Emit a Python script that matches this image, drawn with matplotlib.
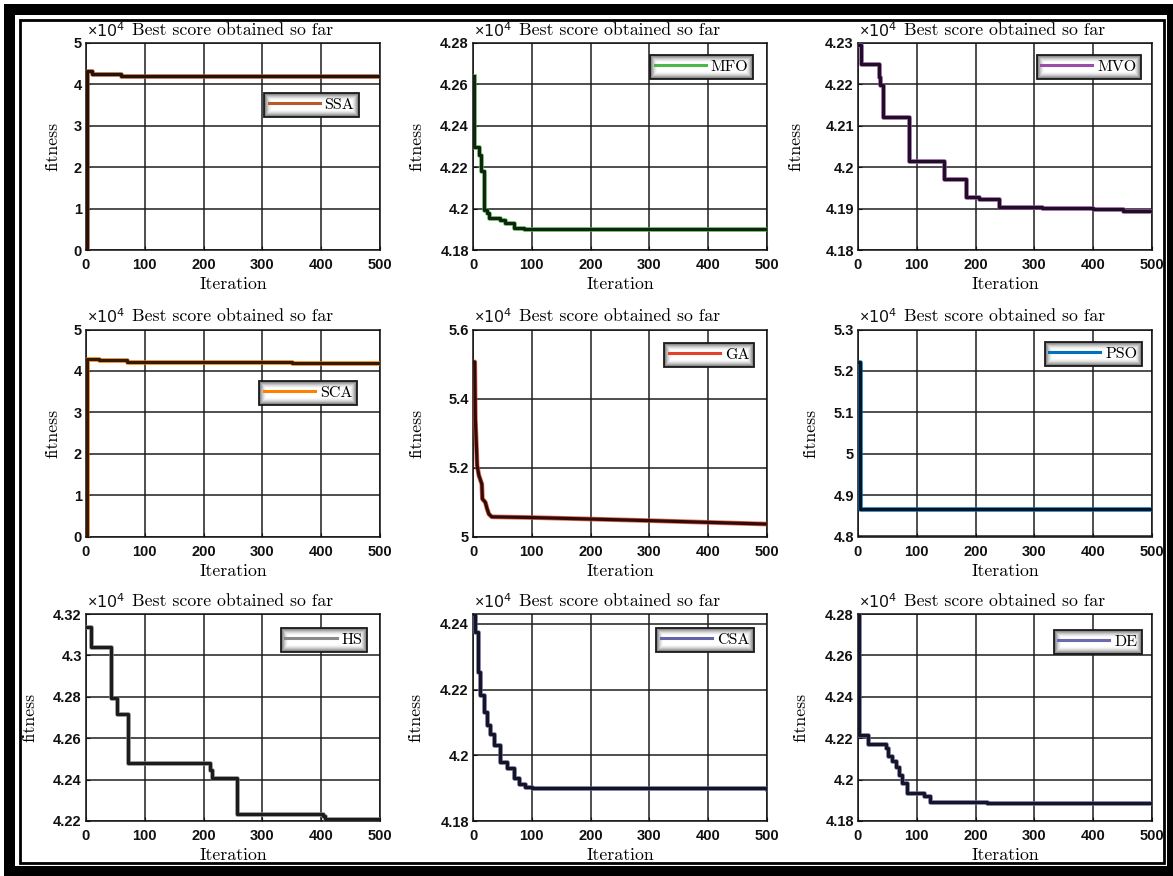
import matplotlib
matplotlib.use('Agg')
import matplotlib.pyplot as plt
from matplotlib.lines import Line2D
from matplotlib.patches import Rectangle
from matplotlib.transforms import IdentityTransform
import matplotlib.colors as mcolors

# ---------------- data ----------------
names = ['SSA', 'MFO', 'MVO', 'SCA', 'GA', 'PSO', 'HS', 'CSA', 'DE']
colors = ['#b85a28', '#4db848', '#9b4dab', '#ff8000', '#e6402a',
          '#0072bd', '#8a8a8a', '#6464aa', '#6a6ab0']

ssa_iter = [1, 2, 10, 47, 60, 500]
ssa_fit = [0, 43150, 42600, 42400, 41950, 41950]

mfo_iter = [1, 2, 11, 14, 19, 23, 28, 46, 55, 69, 86, 500]
mfo_fit = [42640, 42300, 42260, 42180, 41994, 41977, 41953, 41945, 41929, 41908, 41903, 41903]

mvo_iter = [1, 5, 35, 38, 42, 86, 146, 183, 205, 239, 313, 400, 450, 500]
mvo_fit = [42296, 42249, 42219, 42199, 42122, 42014, 41972, 41928, 41922, 41904, 41902, 41900, 41895, 41895]

sca_iter = [1, 2, 22, 70, 350, 500]
sca_fit = [0, 42900, 42650, 42250, 42000, 42000]

ga_iter = [2, 3, 4, 6, 7, 10, 15, 16, 21, 24, 27, 32, 100, 200, 300, 400, 500]
ga_fit = [55060, 55060, 53410, 52540, 52060, 51770, 51520, 51090, 50990, 50800, 50650, 50570,
          50550, 50506, 50460, 50410, 50360]

pso_iter = [1, 3, 500]
pso_fit = [52210, 48660, 48660]

hs_iter = [1, 8, 43, 53, 72, 211, 215, 256, 403, 406, 500]
hs_fit = [43138, 43040, 42796, 42719, 42480, 42444, 42408, 42235, 42222, 42211, 42211]

csa_iter = [1, 4, 8, 12, 18, 24, 29, 35, 46, 58, 69, 78, 89, 100, 500]
csa_fit = [42430, 42375, 42254, 42183, 42132, 42091, 42066, 42030, 41980, 41960, 41930,
           41914, 41904, 41899, 41897]

de_iter = [1, 2, 17, 47, 51, 58, 64, 70, 75, 84, 112, 123, 220, 500]
de_fit = [42800, 42216, 42171, 42155, 42115, 42090, 42060, 42020, 41985, 41937, 41921,
          41894, 41886, 41886]

series_iter = [ssa_iter, mfo_iter, mvo_iter, sca_iter, ga_iter, pso_iter, hs_iter, csa_iter, de_iter]
series_fit = [ssa_fit, mfo_fit, mvo_fit, sca_fit, ga_fit, pso_fit, hs_fit, csa_fit, de_fit]

ytick_labels = [
    ['0', '1', '2', '3', '4', '5'],
    ['4.18', '4.2', '4.22', '4.24', '4.26', '4.28'],
    ['4.18', '4.19', '4.2', '4.21', '4.22', '4.23'],
    ['0', '1', '2', '3', '4', '5'],
    ['5', '5.2', '5.4', '5.6'],
    ['4.8', '4.9', '5', '5.1', '5.2', '5.3'],
    ['4.22', '4.24', '4.26', '4.28', '4.3', '4.32'],
    ['4.18', '4.2', '4.22', '4.24'],
    ['4.18', '4.2', '4.22', '4.24', '4.26', '4.28'],
]
y_limits = [(0, 50000), (41800, 42800), (41800, 42300), (0, 50000), (50000, 56000),
            (48000, 53000), (42200, 43200), (41800, 42430), (41800, 42800)]
xtick_values = [0, 100, 200, 300, 400, 500]
title_text = 'Best score obtained so far'
xlabel_text = 'Iteration'
ylabel_text = 'fitness'

# ---------------- layout / style ----------------
W, H = 1173, 876
col_left = [86, 473, 858]
row_top = [43, 329.5, 614]
AW, AH = 294, 207
legend_anchor = [(0.929, 0.758), (0.952, 0.942), (0.963, 0.942),
                 (0.922, 0.751), (0.956, 0.935), (0.966, 0.94),
                 (0.956, 0.932), (0.956, 0.932), (0.966, 0.923)]
ylabel_x = [-0.088, -0.167, -0.187, -0.088, -0.165, -0.136, -0.167, -0.170, -0.170]
draw_styles = ['steps-post', 'steps-post', 'steps-post', 'steps-post', 'default',
               'steps-post', 'steps-post', 'steps-post', 'steps-post']

plt.rcParams['mathtext.fontset'] = 'custom'
plt.rcParams['mathtext.rm'] = 'Liberation Sans'
plt.rcParams['mathtext.it'] = 'Liberation Sans:italic'
plt.rcParams['mathtext.bf'] = 'Liberation Sans:bold'

SANS = 'Liberation Sans'
SERIF = 'cmr10'

fig = plt.figure(figsize=(W / 100, H / 100), dpi=100)
fig.patch.set_facecolor('white')

axes = []
for k in range(9):
    r, c = divmod(k, 3)
    left = col_left[c]
    top = row_top[r]
    ax = fig.add_axes([left / W, 1 - (top + AH) / H, AW / W, AH / H])
    axes.append(ax)
    col = colors[k]
    rgb = mcolors.to_rgb(col)
    dark = tuple(v * 0.2 for v in rgb)
    ax.plot(series_iter[k], series_fit[k], drawstyle=draw_styles[k], color=col, lw=3.4,
            alpha=0.8, zorder=3)
    ax.plot(series_iter[k], series_fit[k], drawstyle=draw_styles[k], color=dark, lw=2.3,
            zorder=3.1)
    ax.set_xlim(0, 500)
    ax.set_ylim(*y_limits[k])
    ax.set_xticks(xtick_values)
    ax.set_xticklabels([str(v) for v in xtick_values], fontfamily=SANS, fontsize=10.5,
                       fontweight='bold')
    yt = [float(s) * 1e4 for s in ytick_labels[k]]
    ax.set_yticks(yt)
    ax.set_yticklabels(ytick_labels[k], fontfamily=SANS, fontsize=10.5, fontweight='bold')
    ax.tick_params(axis='both', direction='in', length=3, width=0.8, colors='#111111')
    ax.tick_params(axis='x', pad=6)
    ax.tick_params(axis='y', pad=3)
    ax.grid(True, color='#1e1e1e', lw=1.1)
    ax.set_axisbelow(True)
    for sp in ax.spines.values():
        sp.set_linewidth(1.1)
        sp.set_color('#111111')
    ax.set_title(title_text, fontfamily=SERIF, fontsize=12.8, pad=6.0)
    ax.text(0.004, 1.015, r'$\times\mathregular{10^{4}}$', transform=ax.transAxes,
            fontsize=11.5, ha='left', va='bottom', color='#111111')
    ax.set_xlabel(xlabel_text, fontfamily=SERIF, fontsize=12.8, va='top')
    ax.xaxis.set_label_coords(0.5, -0.13)
    ax.set_ylabel(ylabel_text, fontfamily=SERIF, fontsize=12.8, va='bottom')
    ax.yaxis.set_label_coords(ylabel_x[k], 0.5)
    ax.yaxis.label.set_va('bottom')
    handle = Line2D([], [], color=col, lw=2.2)
    leg = ax.legend([handle], [names[k]], loc='upper right', bbox_to_anchor=legend_anchor[k],
                    borderaxespad=0, prop={'family': SERIF, 'size': 11.5},
                    handlelength=3.2, handletextpad=0.3, borderpad=0.3,
                    fancybox=False, framealpha=1)
    fr = leg.get_frame()
    fr.set_facecolor('none')
    fr.set_edgecolor('#1a1a1a')
    fr.set_linewidth(1.3)
    leg.set_zorder(6)

# glow effect inside legend boxes
fig.canvas.draw()
renderer = fig.canvas.get_renderer()
levels = ['#707070', '#8e8e8e', '#aaaaaa', '#c4c4c4', '#dadada', '#ebebeb', '#f7f7f7', '#ffffff']
for ax in axes:
    bb = ax.get_legend().get_window_extent(renderer)
    for i, g in enumerate(levels):
        rect = Rectangle((bb.x0 + i, bb.y0 + i), bb.width - 2 * i, bb.height - 2 * i,
                         transform=IdentityTransform(), facecolor=g, edgecolor='none',
                         zorder=5, clip_on=False)
        ax.add_artist(rect)


# outer frame
def band(x0, y0, x1, y1):
    fig.add_artist(Rectangle((x0 / W, 1 - y1 / H), (x1 - x0) / W, (y1 - y0) / H,
                             transform=fig.transFigure, facecolor='black', edgecolor='none'))


band(4, 4, 1173, 15)      # top
band(4, 4, 15, 876)       # left
band(1167, 4, 1173, 876)  # right
band(4, 866, 1173, 876)   # bottom
fig.add_artist(Rectangle((19.5 / W, 1 - 863 / H), (1164 - 19.5) / W, (863 - 19.5) / H,
                         transform=fig.transFigure, facecolor='none', edgecolor='black',
                         lw=2.0))

fig.savefig('out.png', dpi=100)
